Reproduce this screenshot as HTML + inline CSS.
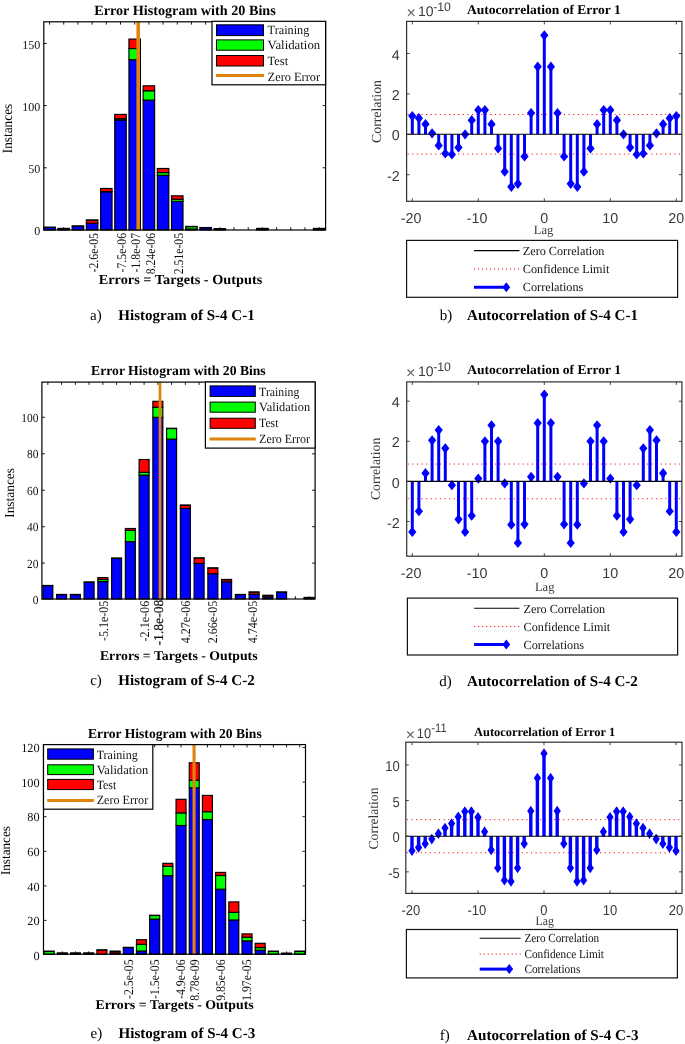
<!DOCTYPE html>
<html lang="en">
<head>
<meta charset="utf-8">
<title>Error histograms and autocorrelation</title>
<style>
html,body{margin:0;padding:0;background:#fff}
body{width:685px;height:1044px;overflow:hidden}
svg{display:block;position:absolute;left:0;top:0;filter:blur(0.35px)}
svg text{font-family:"Liberation Serif", "DejaVu Serif", serif;white-space:pre;text-rendering:geometricPrecision}
svg text.sn{font-family:"Liberation Sans", "DejaVu Sans", sans-serif}
</style>
</head>
<body>
<svg width="685" height="1044" viewBox="0 0 685 1044">
<g>
<text x="185" y="14.6" font-size="14.2" font-weight="bold" text-anchor="middle" textLength="181.6" lengthAdjust="spacingAndGlyphs">Error Histogram with 20 Bins</text>
<line x1="49.55" y1="230" x2="49.55" y2="227.2" stroke="#000" stroke-width="0.9"/>
<line x1="49.55" y1="21.8" x2="49.55" y2="24.6" stroke="#000" stroke-width="0.9"/>
<line x1="63.74" y1="230" x2="63.74" y2="227.2" stroke="#000" stroke-width="0.9"/>
<line x1="63.74" y1="21.8" x2="63.74" y2="24.6" stroke="#000" stroke-width="0.9"/>
<line x1="77.93" y1="230" x2="77.93" y2="227.2" stroke="#000" stroke-width="0.9"/>
<line x1="77.93" y1="21.8" x2="77.93" y2="24.6" stroke="#000" stroke-width="0.9"/>
<line x1="92.12" y1="230" x2="92.12" y2="227.2" stroke="#000" stroke-width="0.9"/>
<line x1="92.12" y1="21.8" x2="92.12" y2="24.6" stroke="#000" stroke-width="0.9"/>
<line x1="106.31" y1="230" x2="106.31" y2="227.2" stroke="#000" stroke-width="0.9"/>
<line x1="106.31" y1="21.8" x2="106.31" y2="24.6" stroke="#000" stroke-width="0.9"/>
<line x1="120.5" y1="230" x2="120.5" y2="227.2" stroke="#000" stroke-width="0.9"/>
<line x1="120.5" y1="21.8" x2="120.5" y2="24.6" stroke="#000" stroke-width="0.9"/>
<line x1="134.69" y1="230" x2="134.69" y2="227.2" stroke="#000" stroke-width="0.9"/>
<line x1="134.69" y1="21.8" x2="134.69" y2="24.6" stroke="#000" stroke-width="0.9"/>
<line x1="148.88" y1="230" x2="148.88" y2="227.2" stroke="#000" stroke-width="0.9"/>
<line x1="148.88" y1="21.8" x2="148.88" y2="24.6" stroke="#000" stroke-width="0.9"/>
<line x1="163.07" y1="230" x2="163.07" y2="227.2" stroke="#000" stroke-width="0.9"/>
<line x1="163.07" y1="21.8" x2="163.07" y2="24.6" stroke="#000" stroke-width="0.9"/>
<line x1="177.26" y1="230" x2="177.26" y2="227.2" stroke="#000" stroke-width="0.9"/>
<line x1="177.26" y1="21.8" x2="177.26" y2="24.6" stroke="#000" stroke-width="0.9"/>
<line x1="191.45" y1="230" x2="191.45" y2="227.2" stroke="#000" stroke-width="0.9"/>
<line x1="191.45" y1="21.8" x2="191.45" y2="24.6" stroke="#000" stroke-width="0.9"/>
<line x1="205.64" y1="230" x2="205.64" y2="227.2" stroke="#000" stroke-width="0.9"/>
<line x1="205.64" y1="21.8" x2="205.64" y2="24.6" stroke="#000" stroke-width="0.9"/>
<line x1="219.83" y1="230" x2="219.83" y2="227.2" stroke="#000" stroke-width="0.9"/>
<line x1="219.83" y1="21.8" x2="219.83" y2="24.6" stroke="#000" stroke-width="0.9"/>
<line x1="234.02" y1="230" x2="234.02" y2="227.2" stroke="#000" stroke-width="0.9"/>
<line x1="234.02" y1="21.8" x2="234.02" y2="24.6" stroke="#000" stroke-width="0.9"/>
<line x1="248.21" y1="230" x2="248.21" y2="227.2" stroke="#000" stroke-width="0.9"/>
<line x1="248.21" y1="21.8" x2="248.21" y2="24.6" stroke="#000" stroke-width="0.9"/>
<line x1="262.4" y1="230" x2="262.4" y2="227.2" stroke="#000" stroke-width="0.9"/>
<line x1="262.4" y1="21.8" x2="262.4" y2="24.6" stroke="#000" stroke-width="0.9"/>
<line x1="276.59" y1="230" x2="276.59" y2="227.2" stroke="#000" stroke-width="0.9"/>
<line x1="276.59" y1="21.8" x2="276.59" y2="24.6" stroke="#000" stroke-width="0.9"/>
<line x1="290.78" y1="230" x2="290.78" y2="227.2" stroke="#000" stroke-width="0.9"/>
<line x1="290.78" y1="21.8" x2="290.78" y2="24.6" stroke="#000" stroke-width="0.9"/>
<line x1="304.97" y1="230" x2="304.97" y2="227.2" stroke="#000" stroke-width="0.9"/>
<line x1="304.97" y1="21.8" x2="304.97" y2="24.6" stroke="#000" stroke-width="0.9"/>
<line x1="319.16" y1="230" x2="319.16" y2="227.2" stroke="#000" stroke-width="0.9"/>
<line x1="319.16" y1="21.8" x2="319.16" y2="24.6" stroke="#000" stroke-width="0.9"/>
<rect x="43.8" y="227.51" width="11.5" height="2.49" fill="#0000ff" stroke="#000" stroke-width="1.15"/>
<line x1="43.3" y1="227.16" x2="55.8" y2="227.16" stroke="#000" stroke-width="1.2"/>
<rect x="57.99" y="228.76" width="11.5" height="1.24" fill="#0000ff" stroke="#000" stroke-width="1.15"/>
<line x1="57.49" y1="228.41" x2="69.99" y2="228.41" stroke="#000" stroke-width="1.2"/>
<rect x="72.18" y="226.27" width="11.5" height="3.73" fill="#0000ff" stroke="#000" stroke-width="1.15"/>
<line x1="71.68" y1="225.92" x2="84.18" y2="225.92" stroke="#000" stroke-width="1.2"/>
<rect x="86.37" y="223.29" width="11.5" height="6.71" fill="#0000ff" stroke="#000" stroke-width="1.15"/>
<rect x="86.37" y="220.3" width="11.5" height="2.98" fill="#ff0000" stroke="#000" stroke-width="1.15"/>
<line x1="85.87" y1="219.95" x2="98.37" y2="219.95" stroke="#000" stroke-width="1.2"/>
<rect x="100.56" y="191.84" width="11.5" height="38.16" fill="#0000ff" stroke="#000" stroke-width="1.15"/>
<rect x="100.56" y="191.47" width="11.5" height="0.37" fill="#00ff00" stroke="#000" stroke-width="1.15"/>
<rect x="100.56" y="188.48" width="11.5" height="2.98" fill="#ff0000" stroke="#000" stroke-width="1.15"/>
<rect x="114.75" y="119.99" width="11.5" height="110.01" fill="#0000ff" stroke="#000" stroke-width="1.15"/>
<rect x="114.75" y="118.75" width="11.5" height="1.24" fill="#00ff00" stroke="#000" stroke-width="1.15"/>
<rect x="114.75" y="114.4" width="11.5" height="4.35" fill="#ff0000" stroke="#000" stroke-width="1.15"/>
<rect x="128.94" y="59.71" width="11.5" height="170.29" fill="#0000ff" stroke="#000" stroke-width="1.15"/>
<rect x="128.94" y="48.52" width="11.5" height="11.19" fill="#00ff00" stroke="#000" stroke-width="1.15"/>
<rect x="128.94" y="39.08" width="11.5" height="9.45" fill="#ff0000" stroke="#000" stroke-width="1.15"/>
<rect x="143.13" y="100.11" width="11.5" height="129.89" fill="#0000ff" stroke="#000" stroke-width="1.15"/>
<rect x="143.13" y="90.78" width="11.5" height="9.32" fill="#00ff00" stroke="#000" stroke-width="1.15"/>
<rect x="143.13" y="85.81" width="11.5" height="4.97" fill="#ff0000" stroke="#000" stroke-width="1.15"/>
<rect x="157.32" y="175.31" width="11.5" height="54.69" fill="#0000ff" stroke="#000" stroke-width="1.15"/>
<rect x="157.32" y="172.57" width="11.5" height="2.73" fill="#00ff00" stroke="#000" stroke-width="1.15"/>
<rect x="157.32" y="168.47" width="11.5" height="4.1" fill="#ff0000" stroke="#000" stroke-width="1.15"/>
<rect x="171.51" y="201.41" width="11.5" height="28.59" fill="#0000ff" stroke="#000" stroke-width="1.15"/>
<rect x="171.51" y="199.17" width="11.5" height="2.24" fill="#00ff00" stroke="#000" stroke-width="1.15"/>
<rect x="171.51" y="195.82" width="11.5" height="3.36" fill="#ff0000" stroke="#000" stroke-width="1.15"/>
<rect x="185.7" y="229.01" width="11.5" height="0.99" fill="#0000ff" stroke="#000" stroke-width="1.15"/>
<rect x="185.7" y="226.77" width="11.5" height="2.24" fill="#00ff00" stroke="#000" stroke-width="1.15"/>
<line x1="185.2" y1="226.42" x2="197.7" y2="226.42" stroke="#000" stroke-width="1.2"/>
<rect x="199.89" y="227.89" width="11.5" height="2.11" fill="#0000ff" stroke="#000" stroke-width="1.15"/>
<line x1="199.39" y1="227.54" x2="211.89" y2="227.54" stroke="#000" stroke-width="1.2"/>
<rect x="214.08" y="229.01" width="11.5" height="0.99" fill="#0000ff" stroke="#000" stroke-width="1.15"/>
<line x1="213.58" y1="228.66" x2="226.08" y2="228.66" stroke="#000" stroke-width="1.2"/>
<rect x="256.65" y="228.76" width="11.5" height="1.24" fill="#0000ff" stroke="#000" stroke-width="1.15"/>
<line x1="256.15" y1="228.41" x2="268.65" y2="228.41" stroke="#000" stroke-width="1.2"/>
<rect x="313.41" y="228.76" width="11.5" height="1.24" fill="#0000ff" stroke="#000" stroke-width="1.15"/>
<line x1="312.91" y1="228.41" x2="325.41" y2="228.41" stroke="#000" stroke-width="1.2"/>
<line x1="138.2" y1="21.8" x2="138.2" y2="230" stroke="#e0840f" stroke-width="3.6"/>
<rect x="43.8" y="21.8" width="281.8" height="208.2" fill="none" stroke="#000" stroke-width="1.2"/>
<text x="40.2" y="235" font-size="12" text-anchor="end" fill="#111">0</text>
<line x1="43.8" y1="167.8" x2="46.8" y2="167.8" stroke="#000" stroke-width="0.9"/>
<line x1="325.6" y1="167.8" x2="322.6" y2="167.8" stroke="#000" stroke-width="0.9"/>
<text x="40.2" y="172.8" font-size="12" text-anchor="end" fill="#111">50</text>
<line x1="43.8" y1="105.6" x2="46.8" y2="105.6" stroke="#000" stroke-width="0.9"/>
<line x1="325.6" y1="105.6" x2="322.6" y2="105.6" stroke="#000" stroke-width="0.9"/>
<text x="40.2" y="110.6" font-size="12" text-anchor="end" fill="#111">100</text>
<line x1="43.8" y1="43.5" x2="46.8" y2="43.5" stroke="#000" stroke-width="0.9"/>
<line x1="325.6" y1="43.5" x2="322.6" y2="43.5" stroke="#000" stroke-width="0.9"/>
<text x="40.2" y="48.5" font-size="12" text-anchor="end" fill="#111">150</text>
<text x="12" y="128.5" font-size="14" text-anchor="middle" textLength="49.4" lengthAdjust="spacingAndGlyphs" transform="rotate(-90 12 128.5)">Instances</text>
<text x="97.5" y="233" font-size="13.3" text-anchor="end" fill="#111" textLength="39.4" lengthAdjust="spacingAndGlyphs" transform="rotate(-90 97.5 233)">-2.6e-05</text>
<text x="125.9" y="233" font-size="13.3" text-anchor="end" fill="#111" textLength="39.4" lengthAdjust="spacingAndGlyphs" transform="rotate(-90 125.9 233)">-7.5e-06</text>
<text x="140.4" y="233" font-size="13.3" text-anchor="end" fill="#111" textLength="39.4" lengthAdjust="spacingAndGlyphs" transform="rotate(-90 140.4 233)">-1.8e-07</text>
<text x="154.5" y="233" font-size="13.3" text-anchor="end" fill="#111" textLength="41.2" lengthAdjust="spacingAndGlyphs" transform="rotate(-90 154.5 233)">8.24e-06</text>
<text x="183" y="233" font-size="13.3" text-anchor="end" fill="#111" textLength="41.2" lengthAdjust="spacingAndGlyphs" transform="rotate(-90 183 233)">2.51e-05</text>
<text x="180.5" y="283.9" font-size="13.8" font-weight="bold" text-anchor="middle" textLength="163.5" lengthAdjust="spacingAndGlyphs">Errors = Targets - Outputs</text>
<rect x="212" y="21.3" width="113.6" height="63.5" fill="#fff" stroke="#000" stroke-width="1.2"/>
<rect x="216.5" y="24.8" width="47" height="10.8" fill="#0000ff" stroke="#000" stroke-width="1"/>
<rect x="216.5" y="39.9" width="47" height="10.3" fill="#00ff00" stroke="#000" stroke-width="1"/>
<rect x="216.5" y="55.5" width="47" height="10.5" fill="#ff0000" stroke="#000" stroke-width="1"/>
<line x1="216" y1="75.5" x2="264" y2="75.5" stroke="#e0840f" stroke-width="3"/>
<text x="267.6" y="33.6" font-size="12.5" fill="#111" textLength="41.7" lengthAdjust="spacingAndGlyphs">Training</text>
<text x="267.6" y="49.3" font-size="12.5" fill="#111" textLength="52.6" lengthAdjust="spacingAndGlyphs">Validation</text>
<text x="267.6" y="64.5" font-size="12.5" fill="#111" textLength="20.6" lengthAdjust="spacingAndGlyphs">Test</text>
<text x="267.6" y="80.6" font-size="12.5" fill="#111" textLength="52.6" lengthAdjust="spacingAndGlyphs">Zero Error</text>
<text x="90" y="320.2" font-size="15">a)</text>
<text x="118.3" y="320.2" font-size="15" font-weight="bold" textLength="136.4" lengthAdjust="spacingAndGlyphs">Histogram of S-4 C-1</text>
</g>
<g>
<text x="406.5" y="18.2" font-size="16" class="sn" fill="#666">&#215;</text>
<text x="417.9" y="16.2" font-size="14" class="sn" fill="#3a3a3a">10</text>
<text x="433.2" y="11" font-size="12.3" class="sn" fill="#3a3a3a">-10</text>
<text x="467" y="14.4" font-size="13.3" font-weight="bold" textLength="153.8" lengthAdjust="spacingAndGlyphs">Autocorrelation of Error 1</text>
<line x1="407.6" y1="114.5" x2="681.9" y2="114.5" stroke="#ff0000" stroke-width="1" stroke-dasharray="1.1 3.5"/>
<line x1="407.6" y1="154.1" x2="681.9" y2="154.1" stroke="#ff0000" stroke-width="1" stroke-dasharray="1.1 3.5"/>
<path d="M412.3 134.3V116.12M418.9 134.3V118.14M425.5 134.3V124.2M432.1 134.3V133.29M438.7 134.3V145.41M445.3 134.3V153.49M451.9 134.3V154.5M458.5 134.3V147.43M465.1 134.3V134.3M471.7 134.3V120.16M478.3 134.3V110.06M484.9 134.3V110.06M491.5 134.3V124.2M498.1 134.3V148.44M504.7 134.3V171.67M511.3 134.3V186.82M517.9 134.3V183.79M524.5 134.3V156.52M531.1 134.3V113.09M537.7 134.3V66.63M544.3 134.3V35.32M550.9 134.3V66.63M557.5 134.3V113.09M564.1 134.3V156.52M570.7 134.3V183.79M577.3 134.3V186.82M583.9 134.3V171.67M590.5 134.3V148.44M597.1 134.3V124.2M603.7 134.3V110.06M610.3 134.3V110.06M616.9 134.3V120.16M623.5 134.3V134.3M630.1 134.3V147.43M636.7 134.3V154.5M643.3 134.3V153.49M649.9 134.3V145.41M656.5 134.3V133.29M663.1 134.3V124.2M669.7 134.3V118.14M676.3 134.3V116.12" stroke="#0000ff" stroke-width="3" fill="none"/>
<path d="M412.3 111.02L416.4 116.12L412.3 121.22L408.2 116.12Z" fill="#0000ff"/>
<path d="M418.9 113.04L423 118.14L418.9 123.24L414.8 118.14Z" fill="#0000ff"/>
<path d="M425.5 119.1L429.6 124.2L425.5 129.3L421.4 124.2Z" fill="#0000ff"/>
<path d="M432.1 128.19L436.2 133.29L432.1 138.39L428 133.29Z" fill="#0000ff"/>
<path d="M438.7 140.31L442.8 145.41L438.7 150.51L434.6 145.41Z" fill="#0000ff"/>
<path d="M445.3 148.39L449.4 153.49L445.3 158.59L441.2 153.49Z" fill="#0000ff"/>
<path d="M451.9 149.4L456 154.5L451.9 159.6L447.8 154.5Z" fill="#0000ff"/>
<path d="M458.5 142.33L462.6 147.43L458.5 152.53L454.4 147.43Z" fill="#0000ff"/>
<path d="M465.1 129.2L469.2 134.3L465.1 139.4L461 134.3Z" fill="#0000ff"/>
<path d="M471.7 115.06L475.8 120.16L471.7 125.26L467.6 120.16Z" fill="#0000ff"/>
<path d="M478.3 104.96L482.4 110.06L478.3 115.16L474.2 110.06Z" fill="#0000ff"/>
<path d="M484.9 104.96L489 110.06L484.9 115.16L480.8 110.06Z" fill="#0000ff"/>
<path d="M491.5 119.1L495.6 124.2L491.5 129.3L487.4 124.2Z" fill="#0000ff"/>
<path d="M498.1 143.34L502.2 148.44L498.1 153.54L494 148.44Z" fill="#0000ff"/>
<path d="M504.7 166.57L508.8 171.67L504.7 176.77L500.6 171.67Z" fill="#0000ff"/>
<path d="M511.3 181.72L515.4 186.82L511.3 191.92L507.2 186.82Z" fill="#0000ff"/>
<path d="M517.9 178.69L522 183.79L517.9 188.89L513.8 183.79Z" fill="#0000ff"/>
<path d="M524.5 151.42L528.6 156.52L524.5 161.62L520.4 156.52Z" fill="#0000ff"/>
<path d="M531.1 107.99L535.2 113.09L531.1 118.19L527 113.09Z" fill="#0000ff"/>
<path d="M537.7 61.53L541.8 66.63L537.7 71.73L533.6 66.63Z" fill="#0000ff"/>
<path d="M544.3 30.22L548.4 35.32L544.3 40.42L540.2 35.32Z" fill="#0000ff"/>
<path d="M550.9 61.53L555 66.63L550.9 71.73L546.8 66.63Z" fill="#0000ff"/>
<path d="M557.5 107.99L561.6 113.09L557.5 118.19L553.4 113.09Z" fill="#0000ff"/>
<path d="M564.1 151.42L568.2 156.52L564.1 161.62L560 156.52Z" fill="#0000ff"/>
<path d="M570.7 178.69L574.8 183.79L570.7 188.89L566.6 183.79Z" fill="#0000ff"/>
<path d="M577.3 181.72L581.4 186.82L577.3 191.92L573.2 186.82Z" fill="#0000ff"/>
<path d="M583.9 166.57L588 171.67L583.9 176.77L579.8 171.67Z" fill="#0000ff"/>
<path d="M590.5 143.34L594.6 148.44L590.5 153.54L586.4 148.44Z" fill="#0000ff"/>
<path d="M597.1 119.1L601.2 124.2L597.1 129.3L593 124.2Z" fill="#0000ff"/>
<path d="M603.7 104.96L607.8 110.06L603.7 115.16L599.6 110.06Z" fill="#0000ff"/>
<path d="M610.3 104.96L614.4 110.06L610.3 115.16L606.2 110.06Z" fill="#0000ff"/>
<path d="M616.9 115.06L621 120.16L616.9 125.26L612.8 120.16Z" fill="#0000ff"/>
<path d="M623.5 129.2L627.6 134.3L623.5 139.4L619.4 134.3Z" fill="#0000ff"/>
<path d="M630.1 142.33L634.2 147.43L630.1 152.53L626 147.43Z" fill="#0000ff"/>
<path d="M636.7 149.4L640.8 154.5L636.7 159.6L632.6 154.5Z" fill="#0000ff"/>
<path d="M643.3 148.39L647.4 153.49L643.3 158.59L639.2 153.49Z" fill="#0000ff"/>
<path d="M649.9 140.31L654 145.41L649.9 150.51L645.8 145.41Z" fill="#0000ff"/>
<path d="M656.5 128.19L660.6 133.29L656.5 138.39L652.4 133.29Z" fill="#0000ff"/>
<path d="M663.1 119.1L667.2 124.2L663.1 129.3L659 124.2Z" fill="#0000ff"/>
<path d="M669.7 113.04L673.8 118.14L669.7 123.24L665.6 118.14Z" fill="#0000ff"/>
<path d="M676.3 111.02L680.4 116.12L676.3 121.22L672.2 116.12Z" fill="#0000ff"/>
<line x1="406.6" y1="134.3" x2="681.9" y2="134.3" stroke="#000" stroke-width="1.1"/>
<rect x="406.6" y="21.4" width="275.3" height="179.9" fill="none" stroke="#2e2e2e" stroke-width="1.2"/>
<line x1="412.3" y1="201.3" x2="412.3" y2="198.3" stroke="#2e2e2e" stroke-width="0.9"/>
<line x1="412.3" y1="21.4" x2="412.3" y2="24.4" stroke="#2e2e2e" stroke-width="0.9"/>
<text x="411.1" y="222.9" font-size="14.3" text-anchor="middle" class="sn" fill="#3a3a3a">-20</text>
<line x1="478.3" y1="201.3" x2="478.3" y2="198.3" stroke="#2e2e2e" stroke-width="0.9"/>
<line x1="478.3" y1="21.4" x2="478.3" y2="24.4" stroke="#2e2e2e" stroke-width="0.9"/>
<text x="477.1" y="222.9" font-size="14.3" text-anchor="middle" class="sn" fill="#3a3a3a">-10</text>
<line x1="544.3" y1="201.3" x2="544.3" y2="198.3" stroke="#2e2e2e" stroke-width="0.9"/>
<line x1="544.3" y1="21.4" x2="544.3" y2="24.4" stroke="#2e2e2e" stroke-width="0.9"/>
<text x="544.3" y="222.9" font-size="14.3" text-anchor="middle" class="sn" fill="#3a3a3a">0</text>
<line x1="610.3" y1="201.3" x2="610.3" y2="198.3" stroke="#2e2e2e" stroke-width="0.9"/>
<line x1="610.3" y1="21.4" x2="610.3" y2="24.4" stroke="#2e2e2e" stroke-width="0.9"/>
<text x="610.3" y="222.9" font-size="14.3" text-anchor="middle" class="sn" fill="#3a3a3a">10</text>
<line x1="676.3" y1="201.3" x2="676.3" y2="198.3" stroke="#2e2e2e" stroke-width="0.9"/>
<line x1="676.3" y1="21.4" x2="676.3" y2="24.4" stroke="#2e2e2e" stroke-width="0.9"/>
<text x="676.3" y="222.9" font-size="14.3" text-anchor="middle" class="sn" fill="#3a3a3a">20</text>
<line x1="406.6" y1="174.7" x2="409.6" y2="174.7" stroke="#2e2e2e" stroke-width="0.9"/>
<line x1="681.9" y1="174.7" x2="678.9" y2="174.7" stroke="#2e2e2e" stroke-width="0.9"/>
<text x="399.8" y="180.8" font-size="14.3" text-anchor="end" class="sn" fill="#3a3a3a">-2</text>
<line x1="406.6" y1="134.3" x2="409.6" y2="134.3" stroke="#2e2e2e" stroke-width="0.9"/>
<line x1="681.9" y1="134.3" x2="678.9" y2="134.3" stroke="#2e2e2e" stroke-width="0.9"/>
<text x="399.8" y="140.4" font-size="14.3" text-anchor="end" class="sn" fill="#3a3a3a">0</text>
<line x1="406.6" y1="93.9" x2="409.6" y2="93.9" stroke="#2e2e2e" stroke-width="0.9"/>
<line x1="681.9" y1="93.9" x2="678.9" y2="93.9" stroke="#2e2e2e" stroke-width="0.9"/>
<text x="399.8" y="100" font-size="14.3" text-anchor="end" class="sn" fill="#3a3a3a">2</text>
<line x1="406.6" y1="53.5" x2="409.6" y2="53.5" stroke="#2e2e2e" stroke-width="0.9"/>
<line x1="681.9" y1="53.5" x2="678.9" y2="53.5" stroke="#2e2e2e" stroke-width="0.9"/>
<text x="399.8" y="59.6" font-size="14.3" text-anchor="end" class="sn" fill="#3a3a3a">4</text>
<text x="380.6" y="111.5" font-size="13.8" text-anchor="middle" fill="#3a3a3a" textLength="63" lengthAdjust="spacingAndGlyphs" transform="rotate(-90 380.6 111.5)">Correlation</text>
<text x="543.6" y="233.5" font-size="12.8" text-anchor="middle" fill="#3a3a3a" textLength="19.6" lengthAdjust="spacingAndGlyphs">Lag</text>
<rect x="406.6" y="240.4" width="271" height="56.9" fill="#fff" stroke="#111" stroke-width="1.2"/>
<line x1="474" y1="250.6" x2="519.4" y2="250.6" stroke="#000" stroke-width="1.1"/>
<line x1="474" y1="269" x2="519.4" y2="269" stroke="#ff0000" stroke-width="1" stroke-dasharray="1.1 2.9"/>
<line x1="474" y1="287.3" x2="506.3" y2="287.3" stroke="#0000ff" stroke-width="3"/>
<path d="M506.3 282.3L510.2 287.3L506.3 292.3L502.4 287.3Z" fill="#0000ff"/>
<text x="522.8" y="254.9" font-size="12.3" fill="#111" textLength="81.6" lengthAdjust="spacingAndGlyphs">Zero Correlation</text>
<text x="522.8" y="273.2" font-size="12.3" fill="#111" textLength="86.6" lengthAdjust="spacingAndGlyphs">Confidence Limit</text>
<text x="522.8" y="291.4" font-size="12.3" fill="#111" textLength="60.5" lengthAdjust="spacingAndGlyphs">Correlations</text>
<text x="439.7" y="320.2" font-size="15">b)</text>
<text x="467" y="320.2" font-size="15" font-weight="bold" textLength="171" lengthAdjust="spacingAndGlyphs">Autocorrelation of S-4 C-1</text>
</g>
<g>
<text x="178.4" y="375.2" font-size="13.65" font-weight="bold" text-anchor="middle" textLength="174.6" lengthAdjust="spacingAndGlyphs">Error Histogram with 20 Bins</text>
<line x1="47.85" y1="599" x2="47.85" y2="596.2" stroke="#000" stroke-width="0.9"/>
<line x1="47.85" y1="382.1" x2="47.85" y2="384.9" stroke="#000" stroke-width="0.9"/>
<line x1="61.6" y1="599" x2="61.6" y2="596.2" stroke="#000" stroke-width="0.9"/>
<line x1="61.6" y1="382.1" x2="61.6" y2="384.9" stroke="#000" stroke-width="0.9"/>
<line x1="75.35" y1="599" x2="75.35" y2="596.2" stroke="#000" stroke-width="0.9"/>
<line x1="75.35" y1="382.1" x2="75.35" y2="384.9" stroke="#000" stroke-width="0.9"/>
<line x1="89.1" y1="599" x2="89.1" y2="596.2" stroke="#000" stroke-width="0.9"/>
<line x1="89.1" y1="382.1" x2="89.1" y2="384.9" stroke="#000" stroke-width="0.9"/>
<line x1="102.85" y1="599" x2="102.85" y2="596.2" stroke="#000" stroke-width="0.9"/>
<line x1="102.85" y1="382.1" x2="102.85" y2="384.9" stroke="#000" stroke-width="0.9"/>
<line x1="116.6" y1="599" x2="116.6" y2="596.2" stroke="#000" stroke-width="0.9"/>
<line x1="116.6" y1="382.1" x2="116.6" y2="384.9" stroke="#000" stroke-width="0.9"/>
<line x1="130.35" y1="599" x2="130.35" y2="596.2" stroke="#000" stroke-width="0.9"/>
<line x1="130.35" y1="382.1" x2="130.35" y2="384.9" stroke="#000" stroke-width="0.9"/>
<line x1="144.1" y1="599" x2="144.1" y2="596.2" stroke="#000" stroke-width="0.9"/>
<line x1="144.1" y1="382.1" x2="144.1" y2="384.9" stroke="#000" stroke-width="0.9"/>
<line x1="157.85" y1="599" x2="157.85" y2="596.2" stroke="#000" stroke-width="0.9"/>
<line x1="157.85" y1="382.1" x2="157.85" y2="384.9" stroke="#000" stroke-width="0.9"/>
<line x1="171.6" y1="599" x2="171.6" y2="596.2" stroke="#000" stroke-width="0.9"/>
<line x1="171.6" y1="382.1" x2="171.6" y2="384.9" stroke="#000" stroke-width="0.9"/>
<line x1="185.35" y1="599" x2="185.35" y2="596.2" stroke="#000" stroke-width="0.9"/>
<line x1="185.35" y1="382.1" x2="185.35" y2="384.9" stroke="#000" stroke-width="0.9"/>
<line x1="199.1" y1="599" x2="199.1" y2="596.2" stroke="#000" stroke-width="0.9"/>
<line x1="199.1" y1="382.1" x2="199.1" y2="384.9" stroke="#000" stroke-width="0.9"/>
<line x1="212.85" y1="599" x2="212.85" y2="596.2" stroke="#000" stroke-width="0.9"/>
<line x1="212.85" y1="382.1" x2="212.85" y2="384.9" stroke="#000" stroke-width="0.9"/>
<line x1="226.6" y1="599" x2="226.6" y2="596.2" stroke="#000" stroke-width="0.9"/>
<line x1="226.6" y1="382.1" x2="226.6" y2="384.9" stroke="#000" stroke-width="0.9"/>
<line x1="240.35" y1="599" x2="240.35" y2="596.2" stroke="#000" stroke-width="0.9"/>
<line x1="240.35" y1="382.1" x2="240.35" y2="384.9" stroke="#000" stroke-width="0.9"/>
<line x1="254.1" y1="599" x2="254.1" y2="596.2" stroke="#000" stroke-width="0.9"/>
<line x1="254.1" y1="382.1" x2="254.1" y2="384.9" stroke="#000" stroke-width="0.9"/>
<line x1="267.85" y1="599" x2="267.85" y2="596.2" stroke="#000" stroke-width="0.9"/>
<line x1="267.85" y1="382.1" x2="267.85" y2="384.9" stroke="#000" stroke-width="0.9"/>
<line x1="281.6" y1="599" x2="281.6" y2="596.2" stroke="#000" stroke-width="0.9"/>
<line x1="281.6" y1="382.1" x2="281.6" y2="384.9" stroke="#000" stroke-width="0.9"/>
<line x1="295.35" y1="599" x2="295.35" y2="596.2" stroke="#000" stroke-width="0.9"/>
<line x1="295.35" y1="382.1" x2="295.35" y2="384.9" stroke="#000" stroke-width="0.9"/>
<line x1="309.1" y1="599" x2="309.1" y2="596.2" stroke="#000" stroke-width="0.9"/>
<line x1="309.1" y1="382.1" x2="309.1" y2="384.9" stroke="#000" stroke-width="0.9"/>
<rect x="42.85" y="585.8" width="10" height="13.2" fill="#0000ff" stroke="#000" stroke-width="1.15"/>
<line x1="42.35" y1="585.45" x2="53.35" y2="585.45" stroke="#000" stroke-width="1.2"/>
<rect x="56.6" y="594.8" width="10" height="4.2" fill="#0000ff" stroke="#000" stroke-width="1.15"/>
<line x1="56.1" y1="594.45" x2="67.1" y2="594.45" stroke="#000" stroke-width="1.2"/>
<rect x="70.35" y="594.8" width="10" height="4.2" fill="#0000ff" stroke="#000" stroke-width="1.15"/>
<line x1="69.85" y1="594.45" x2="80.85" y2="594.45" stroke="#000" stroke-width="1.2"/>
<rect x="84.1" y="582.3" width="10" height="16.7" fill="#0000ff" stroke="#000" stroke-width="1.15"/>
<line x1="83.6" y1="581.95" x2="94.6" y2="581.95" stroke="#000" stroke-width="1.2"/>
<rect x="97.85" y="581.6" width="10" height="17.4" fill="#0000ff" stroke="#000" stroke-width="1.15"/>
<rect x="97.85" y="579.5" width="10" height="2.1" fill="#00ff00" stroke="#000" stroke-width="1.15"/>
<rect x="97.85" y="577.6" width="10" height="1.9" fill="#ff0000" stroke="#000" stroke-width="1.15"/>
<rect x="111.6" y="558.4" width="10" height="40.6" fill="#0000ff" stroke="#000" stroke-width="1.15"/>
<line x1="111.1" y1="558.05" x2="122.1" y2="558.05" stroke="#000" stroke-width="1.2"/>
<rect x="125.35" y="541.6" width="10" height="57.4" fill="#0000ff" stroke="#000" stroke-width="1.15"/>
<rect x="125.35" y="530.3" width="10" height="11.3" fill="#00ff00" stroke="#000" stroke-width="1.15"/>
<rect x="125.35" y="528.5" width="10" height="1.8" fill="#ff0000" stroke="#000" stroke-width="1.15"/>
<rect x="139.1" y="475.1" width="10" height="123.9" fill="#0000ff" stroke="#000" stroke-width="1.15"/>
<rect x="139.1" y="472.3" width="10" height="2.8" fill="#00ff00" stroke="#000" stroke-width="1.15"/>
<rect x="139.1" y="459.5" width="10" height="12.8" fill="#ff0000" stroke="#000" stroke-width="1.15"/>
<rect x="152.85" y="417.3" width="10" height="181.7" fill="#0000ff" stroke="#000" stroke-width="1.15"/>
<rect x="152.85" y="407.2" width="10" height="10.1" fill="#00ff00" stroke="#000" stroke-width="1.15"/>
<rect x="152.85" y="401.3" width="10" height="5.9" fill="#ff0000" stroke="#000" stroke-width="1.15"/>
<rect x="166.6" y="439.1" width="10" height="159.9" fill="#0000ff" stroke="#000" stroke-width="1.15"/>
<rect x="166.6" y="428.6" width="10" height="10.5" fill="#00ff00" stroke="#000" stroke-width="1.15"/>
<line x1="166.1" y1="428.25" x2="177.1" y2="428.25" stroke="#000" stroke-width="1.2"/>
<rect x="180.35" y="508.4" width="10" height="90.6" fill="#0000ff" stroke="#000" stroke-width="1.15"/>
<rect x="180.35" y="505.4" width="10" height="3" fill="#ff0000" stroke="#000" stroke-width="1.15"/>
<line x1="179.85" y1="505.05" x2="190.85" y2="505.05" stroke="#000" stroke-width="1.2"/>
<rect x="194.1" y="563.4" width="10" height="35.6" fill="#0000ff" stroke="#000" stroke-width="1.15"/>
<rect x="194.1" y="558.2" width="10" height="5.2" fill="#ff0000" stroke="#000" stroke-width="1.15"/>
<line x1="193.6" y1="557.85" x2="204.6" y2="557.85" stroke="#000" stroke-width="1.2"/>
<rect x="207.85" y="573.7" width="10" height="25.3" fill="#0000ff" stroke="#000" stroke-width="1.15"/>
<rect x="207.85" y="568.2" width="10" height="5.5" fill="#ff0000" stroke="#000" stroke-width="1.15"/>
<line x1="207.35" y1="567.85" x2="218.35" y2="567.85" stroke="#000" stroke-width="1.2"/>
<rect x="221.6" y="581.8" width="10" height="17.2" fill="#0000ff" stroke="#000" stroke-width="1.15"/>
<rect x="221.6" y="579.8" width="10" height="2" fill="#ff0000" stroke="#000" stroke-width="1.15"/>
<line x1="221.1" y1="579.45" x2="232.1" y2="579.45" stroke="#000" stroke-width="1.2"/>
<rect x="235.35" y="594.8" width="10" height="4.2" fill="#0000ff" stroke="#000" stroke-width="1.15"/>
<line x1="234.85" y1="594.45" x2="245.85" y2="594.45" stroke="#000" stroke-width="1.2"/>
<rect x="249.1" y="594.3" width="10" height="4.7" fill="#0000ff" stroke="#000" stroke-width="1.15"/>
<rect x="249.1" y="592.3" width="10" height="2" fill="#ff0000" stroke="#000" stroke-width="1.15"/>
<line x1="248.6" y1="591.95" x2="259.6" y2="591.95" stroke="#000" stroke-width="1.2"/>
<rect x="262.85" y="597" width="10" height="2" fill="#0000ff" stroke="#000" stroke-width="1.15"/>
<rect x="262.85" y="595.6" width="10" height="1.4" fill="#ff0000" stroke="#000" stroke-width="1.15"/>
<line x1="262.35" y1="595.25" x2="273.35" y2="595.25" stroke="#000" stroke-width="1.2"/>
<rect x="276.6" y="592.3" width="10" height="6.7" fill="#0000ff" stroke="#000" stroke-width="1.15"/>
<line x1="276.1" y1="591.95" x2="287.1" y2="591.95" stroke="#000" stroke-width="1.2"/>
<rect x="304.1" y="597.8" width="10" height="1.2" fill="#0000ff" stroke="#000" stroke-width="1.15"/>
<line x1="303.6" y1="597.45" x2="314.6" y2="597.45" stroke="#000" stroke-width="1.2"/>
<line x1="160" y1="382.1" x2="160" y2="599" stroke="#e0840f" stroke-width="2.8"/>
<rect x="41.9" y="382.1" width="273.2" height="216.9" fill="none" stroke="#000" stroke-width="1.2"/>
<text x="38.4" y="604.2" font-size="12.3" text-anchor="end" fill="#111" transform="translate(2.69 0) scale(0.93 1)">0</text>
<line x1="41.9" y1="563.1" x2="44.9" y2="563.1" stroke="#000" stroke-width="0.9"/>
<line x1="315.1" y1="563.1" x2="312.1" y2="563.1" stroke="#000" stroke-width="0.9"/>
<text x="38.4" y="567.7" font-size="12.3" text-anchor="end" fill="#111" transform="translate(2.69 0) scale(0.93 1)">20</text>
<line x1="41.9" y1="526.7" x2="44.9" y2="526.7" stroke="#000" stroke-width="0.9"/>
<line x1="315.1" y1="526.7" x2="312.1" y2="526.7" stroke="#000" stroke-width="0.9"/>
<text x="38.4" y="531.3" font-size="12.3" text-anchor="end" fill="#111" transform="translate(2.69 0) scale(0.93 1)">40</text>
<line x1="41.9" y1="490.2" x2="44.9" y2="490.2" stroke="#000" stroke-width="0.9"/>
<line x1="315.1" y1="490.2" x2="312.1" y2="490.2" stroke="#000" stroke-width="0.9"/>
<text x="38.4" y="494.8" font-size="12.3" text-anchor="end" fill="#111" transform="translate(2.69 0) scale(0.93 1)">60</text>
<line x1="41.9" y1="453.8" x2="44.9" y2="453.8" stroke="#000" stroke-width="0.9"/>
<line x1="315.1" y1="453.8" x2="312.1" y2="453.8" stroke="#000" stroke-width="0.9"/>
<text x="38.4" y="458.4" font-size="12.3" text-anchor="end" fill="#111" transform="translate(2.69 0) scale(0.93 1)">80</text>
<line x1="41.9" y1="417.3" x2="44.9" y2="417.3" stroke="#000" stroke-width="0.9"/>
<line x1="315.1" y1="417.3" x2="312.1" y2="417.3" stroke="#000" stroke-width="0.9"/>
<text x="38.4" y="421.9" font-size="12.3" text-anchor="end" fill="#111" transform="translate(2.69 0) scale(0.93 1)">100</text>
<text x="13.9" y="492.9" font-size="13.5" text-anchor="middle" textLength="49.8" lengthAdjust="spacingAndGlyphs" transform="rotate(-90 13.9 492.9)">Instances</text>
<text x="108.3" y="600.8" font-size="13.3" text-anchor="end" fill="#111" textLength="40.2" lengthAdjust="spacingAndGlyphs" transform="rotate(-90 108.3 600.8)">-5.1e-05</text>
<text x="149.1" y="600.8" font-size="13.3" text-anchor="end" fill="#111" textLength="40.6" lengthAdjust="spacingAndGlyphs" transform="rotate(-90 149.1 600.8)">-2.1e-06</text>
<text x="162.8" y="599.7" font-size="13.6" text-anchor="end" fill="#111" textLength="45.7" lengthAdjust="spacingAndGlyphs" transform="rotate(-90 162.8 599.7)" stroke="#111" stroke-width="0.2">-1.8e-08</text>
<text x="190.2" y="600.8" font-size="13.3" text-anchor="end" fill="#111" textLength="42.4" lengthAdjust="spacingAndGlyphs" transform="rotate(-90 190.2 600.8)">4.27e-06</text>
<text x="216.6" y="600.8" font-size="13.3" text-anchor="end" fill="#111" textLength="42.4" lengthAdjust="spacingAndGlyphs" transform="rotate(-90 216.6 600.8)">2.66e-05</text>
<text x="257.5" y="600.8" font-size="13.3" text-anchor="end" fill="#111" textLength="42.4" lengthAdjust="spacingAndGlyphs" transform="rotate(-90 257.5 600.8)">4.74e-05</text>
<text x="178.7" y="659.7" font-size="13.4" font-weight="bold" text-anchor="middle" textLength="157.6" lengthAdjust="spacingAndGlyphs">Errors = Targets - Outputs</text>
<rect x="205.4" y="382" width="109.7" height="66.1" fill="#fff" stroke="#000" stroke-width="1.2"/>
<rect x="210.1" y="385.9" width="45.2" height="10.5" fill="#0000ff" stroke="#000" stroke-width="1"/>
<rect x="210.1" y="402.1" width="45.2" height="10.1" fill="#00ff00" stroke="#000" stroke-width="1"/>
<rect x="210.1" y="418.2" width="45.2" height="10.1" fill="#ff0000" stroke="#000" stroke-width="1"/>
<line x1="209.6" y1="439" x2="255.8" y2="439" stroke="#e0840f" stroke-width="3"/>
<text x="259.1" y="395.5" font-size="12.5" fill="#111" textLength="40.2" lengthAdjust="spacingAndGlyphs">Training</text>
<text x="259.1" y="411.4" font-size="12.5" fill="#111" textLength="51" lengthAdjust="spacingAndGlyphs">Validation</text>
<text x="259.1" y="426.8" font-size="12.5" fill="#111" textLength="19.3" lengthAdjust="spacingAndGlyphs">Test</text>
<text x="259.1" y="442.7" font-size="12.5" fill="#111" textLength="51" lengthAdjust="spacingAndGlyphs">Zero Error</text>
<text x="90.2" y="684.9" font-size="15">c)</text>
<text x="118.3" y="684.9" font-size="15" font-weight="bold" textLength="136.4" lengthAdjust="spacingAndGlyphs">Histogram of S-4 C-2</text>
</g>
<g>
<text x="406.1" y="378.4" font-size="16" class="sn" fill="#666">&#215;</text>
<text x="417.9" y="376.4" font-size="14" class="sn" fill="#3a3a3a">10</text>
<text x="433.2" y="371.2" font-size="12.3" class="sn" fill="#3a3a3a">-10</text>
<text x="467.2" y="374" font-size="13.3" font-weight="bold" textLength="153.8" lengthAdjust="spacingAndGlyphs">Autocorrelation of Error 1</text>
<line x1="407.7" y1="464.06" x2="681.9" y2="464.06" stroke="#ff0000" stroke-width="1" stroke-dasharray="1.1 3.5"/>
<line x1="407.7" y1="498.74" x2="681.9" y2="498.74" stroke="#ff0000" stroke-width="1" stroke-dasharray="1.1 3.5"/>
<path d="M412.3 481.4V531.93M418.9 481.4V511.27M425.5 481.4V473.18M432.1 481.4V440.3M438.7 481.4V430.07M445.3 481.4V448.32M451.9 481.4V485.21M458.5 481.4V519.29M465.1 481.4V531.93M471.7 481.4V515.69M478.3 481.4V478.59M484.9 481.4V441.3M491.5 481.4V425.26M498.1 481.4V441.3M504.7 481.4V483.4M511.3 481.4V524.71M517.9 481.4V542.95M524.5 481.4V524.31M531.1 481.4V476.79M537.7 481.4V423.05M544.3 481.4V394.58M550.9 481.4V423.05M557.5 481.4V476.79M564.1 481.4V524.31M570.7 481.4V542.95M577.3 481.4V524.71M583.9 481.4V483.4M590.5 481.4V441.3M597.1 481.4V425.26M603.7 481.4V441.3M610.3 481.4V478.59M616.9 481.4V515.69M623.5 481.4V531.93M630.1 481.4V519.29M636.7 481.4V485.21M643.3 481.4V448.32M649.9 481.4V430.07M656.5 481.4V440.3M663.1 481.4V473.18M669.7 481.4V511.27M676.3 481.4V531.93" stroke="#0000ff" stroke-width="3" fill="none"/>
<path d="M412.3 526.83L416.4 531.93L412.3 537.03L408.2 531.93Z" fill="#0000ff"/>
<path d="M418.9 506.17L423 511.27L418.9 516.37L414.8 511.27Z" fill="#0000ff"/>
<path d="M425.5 468.08L429.6 473.18L425.5 478.28L421.4 473.18Z" fill="#0000ff"/>
<path d="M432.1 435.2L436.2 440.3L432.1 445.4L428 440.3Z" fill="#0000ff"/>
<path d="M438.7 424.97L442.8 430.07L438.7 435.17L434.6 430.07Z" fill="#0000ff"/>
<path d="M445.3 443.22L449.4 448.32L445.3 453.42L441.2 448.32Z" fill="#0000ff"/>
<path d="M451.9 480.11L456 485.21L451.9 490.31L447.8 485.21Z" fill="#0000ff"/>
<path d="M458.5 514.19L462.6 519.29L458.5 524.39L454.4 519.29Z" fill="#0000ff"/>
<path d="M465.1 526.83L469.2 531.93L465.1 537.03L461 531.93Z" fill="#0000ff"/>
<path d="M471.7 510.59L475.8 515.69L471.7 520.79L467.6 515.69Z" fill="#0000ff"/>
<path d="M478.3 473.49L482.4 478.59L478.3 483.69L474.2 478.59Z" fill="#0000ff"/>
<path d="M484.9 436.2L489 441.3L484.9 446.4L480.8 441.3Z" fill="#0000ff"/>
<path d="M491.5 420.16L495.6 425.26L491.5 430.36L487.4 425.26Z" fill="#0000ff"/>
<path d="M498.1 436.2L502.2 441.3L498.1 446.4L494 441.3Z" fill="#0000ff"/>
<path d="M504.7 478.3L508.8 483.4L504.7 488.5L500.6 483.4Z" fill="#0000ff"/>
<path d="M511.3 519.61L515.4 524.71L511.3 529.81L507.2 524.71Z" fill="#0000ff"/>
<path d="M517.9 537.85L522 542.95L517.9 548.05L513.8 542.95Z" fill="#0000ff"/>
<path d="M524.5 519.21L528.6 524.31L524.5 529.41L520.4 524.31Z" fill="#0000ff"/>
<path d="M531.1 471.69L535.2 476.79L531.1 481.89L527 476.79Z" fill="#0000ff"/>
<path d="M537.7 417.95L541.8 423.05L537.7 428.15L533.6 423.05Z" fill="#0000ff"/>
<path d="M544.3 389.48L548.4 394.58L544.3 399.68L540.2 394.58Z" fill="#0000ff"/>
<path d="M550.9 417.95L555 423.05L550.9 428.15L546.8 423.05Z" fill="#0000ff"/>
<path d="M557.5 471.69L561.6 476.79L557.5 481.89L553.4 476.79Z" fill="#0000ff"/>
<path d="M564.1 519.21L568.2 524.31L564.1 529.41L560 524.31Z" fill="#0000ff"/>
<path d="M570.7 537.85L574.8 542.95L570.7 548.05L566.6 542.95Z" fill="#0000ff"/>
<path d="M577.3 519.61L581.4 524.71L577.3 529.81L573.2 524.71Z" fill="#0000ff"/>
<path d="M583.9 478.3L588 483.4L583.9 488.5L579.8 483.4Z" fill="#0000ff"/>
<path d="M590.5 436.2L594.6 441.3L590.5 446.4L586.4 441.3Z" fill="#0000ff"/>
<path d="M597.1 420.16L601.2 425.26L597.1 430.36L593 425.26Z" fill="#0000ff"/>
<path d="M603.7 436.2L607.8 441.3L603.7 446.4L599.6 441.3Z" fill="#0000ff"/>
<path d="M610.3 473.49L614.4 478.59L610.3 483.69L606.2 478.59Z" fill="#0000ff"/>
<path d="M616.9 510.59L621 515.69L616.9 520.79L612.8 515.69Z" fill="#0000ff"/>
<path d="M623.5 526.83L627.6 531.93L623.5 537.03L619.4 531.93Z" fill="#0000ff"/>
<path d="M630.1 514.19L634.2 519.29L630.1 524.39L626 519.29Z" fill="#0000ff"/>
<path d="M636.7 480.11L640.8 485.21L636.7 490.31L632.6 485.21Z" fill="#0000ff"/>
<path d="M643.3 443.22L647.4 448.32L643.3 453.42L639.2 448.32Z" fill="#0000ff"/>
<path d="M649.9 424.97L654 430.07L649.9 435.17L645.8 430.07Z" fill="#0000ff"/>
<path d="M656.5 435.2L660.6 440.3L656.5 445.4L652.4 440.3Z" fill="#0000ff"/>
<path d="M663.1 468.08L667.2 473.18L663.1 478.28L659 473.18Z" fill="#0000ff"/>
<path d="M669.7 506.17L673.8 511.27L669.7 516.37L665.6 511.27Z" fill="#0000ff"/>
<path d="M676.3 526.83L680.4 531.93L676.3 537.03L672.2 531.93Z" fill="#0000ff"/>
<line x1="406.7" y1="481.4" x2="681.9" y2="481.4" stroke="#000" stroke-width="1.1"/>
<rect x="406.7" y="381.9" width="275.2" height="174.3" fill="none" stroke="#2e2e2e" stroke-width="1.2"/>
<line x1="412.3" y1="556.2" x2="412.3" y2="553.2" stroke="#2e2e2e" stroke-width="0.9"/>
<line x1="412.3" y1="381.9" x2="412.3" y2="384.9" stroke="#2e2e2e" stroke-width="0.9"/>
<text x="411.1" y="577.7" font-size="14.3" text-anchor="middle" class="sn" fill="#3a3a3a">-20</text>
<line x1="478.3" y1="556.2" x2="478.3" y2="553.2" stroke="#2e2e2e" stroke-width="0.9"/>
<line x1="478.3" y1="381.9" x2="478.3" y2="384.9" stroke="#2e2e2e" stroke-width="0.9"/>
<text x="477.1" y="577.7" font-size="14.3" text-anchor="middle" class="sn" fill="#3a3a3a">-10</text>
<line x1="544.3" y1="556.2" x2="544.3" y2="553.2" stroke="#2e2e2e" stroke-width="0.9"/>
<line x1="544.3" y1="381.9" x2="544.3" y2="384.9" stroke="#2e2e2e" stroke-width="0.9"/>
<text x="544.3" y="577.7" font-size="14.3" text-anchor="middle" class="sn" fill="#3a3a3a">0</text>
<line x1="610.3" y1="556.2" x2="610.3" y2="553.2" stroke="#2e2e2e" stroke-width="0.9"/>
<line x1="610.3" y1="381.9" x2="610.3" y2="384.9" stroke="#2e2e2e" stroke-width="0.9"/>
<text x="610.3" y="577.7" font-size="14.3" text-anchor="middle" class="sn" fill="#3a3a3a">10</text>
<line x1="676.3" y1="556.2" x2="676.3" y2="553.2" stroke="#2e2e2e" stroke-width="0.9"/>
<line x1="676.3" y1="381.9" x2="676.3" y2="384.9" stroke="#2e2e2e" stroke-width="0.9"/>
<text x="676.3" y="577.7" font-size="14.3" text-anchor="middle" class="sn" fill="#3a3a3a">20</text>
<line x1="406.7" y1="521.5" x2="409.7" y2="521.5" stroke="#2e2e2e" stroke-width="0.9"/>
<line x1="681.9" y1="521.5" x2="678.9" y2="521.5" stroke="#2e2e2e" stroke-width="0.9"/>
<text x="399.8" y="527.6" font-size="14.3" text-anchor="end" class="sn" fill="#3a3a3a">-2</text>
<line x1="406.7" y1="481.4" x2="409.7" y2="481.4" stroke="#2e2e2e" stroke-width="0.9"/>
<line x1="681.9" y1="481.4" x2="678.9" y2="481.4" stroke="#2e2e2e" stroke-width="0.9"/>
<text x="399.8" y="487.5" font-size="14.3" text-anchor="end" class="sn" fill="#3a3a3a">0</text>
<line x1="406.7" y1="441.3" x2="409.7" y2="441.3" stroke="#2e2e2e" stroke-width="0.9"/>
<line x1="681.9" y1="441.3" x2="678.9" y2="441.3" stroke="#2e2e2e" stroke-width="0.9"/>
<text x="399.8" y="447.4" font-size="14.3" text-anchor="end" class="sn" fill="#3a3a3a">2</text>
<line x1="406.7" y1="401.2" x2="409.7" y2="401.2" stroke="#2e2e2e" stroke-width="0.9"/>
<line x1="681.9" y1="401.2" x2="678.9" y2="401.2" stroke="#2e2e2e" stroke-width="0.9"/>
<text x="399.8" y="407.3" font-size="14.3" text-anchor="end" class="sn" fill="#3a3a3a">4</text>
<text x="380.1" y="468.9" font-size="13.8" text-anchor="middle" fill="#3a3a3a" textLength="62.4" lengthAdjust="spacingAndGlyphs" transform="rotate(-90 380.1 468.9)">Correlation</text>
<text x="544.7" y="591.4" font-size="12.8" text-anchor="middle" fill="#3a3a3a" textLength="19.5" lengthAdjust="spacingAndGlyphs">Lag</text>
<rect x="407.4" y="598.1" width="270.2" height="56.9" fill="#fff" stroke="#111" stroke-width="1.2"/>
<line x1="474.1" y1="608.2" x2="519.4" y2="608.2" stroke="#000" stroke-width="1.1"/>
<line x1="474.1" y1="626.5" x2="519.4" y2="626.5" stroke="#ff0000" stroke-width="1" stroke-dasharray="1.1 2.9"/>
<line x1="474.1" y1="644.6" x2="506.3" y2="644.6" stroke="#0000ff" stroke-width="3"/>
<path d="M506.3 639.6L510.2 644.6L506.3 649.6L502.4 644.6Z" fill="#0000ff"/>
<text x="523.6" y="612.7" font-size="12.3" fill="#111" textLength="81.6" lengthAdjust="spacingAndGlyphs">Zero Correlation</text>
<text x="523.6" y="631" font-size="12.3" fill="#111" textLength="86.6" lengthAdjust="spacingAndGlyphs">Confidence Limit</text>
<text x="523.6" y="648.7" font-size="12.3" fill="#111" textLength="60.5" lengthAdjust="spacingAndGlyphs">Correlations</text>
<text x="439.2" y="685.6" font-size="15">d)</text>
<text x="467.1" y="685.6" font-size="15" font-weight="bold" textLength="170.8" lengthAdjust="spacingAndGlyphs">Autocorrelation of S-4 C-2</text>
</g>
<g>
<text x="174.8" y="737.6" font-size="13.6" font-weight="bold" text-anchor="middle" textLength="173.8" lengthAdjust="spacingAndGlyphs">Error Histogram with 20 Bins</text>
<line x1="49.15" y1="954.2" x2="49.15" y2="951.4" stroke="#000" stroke-width="0.9"/>
<line x1="49.15" y1="744.6" x2="49.15" y2="747.4" stroke="#000" stroke-width="0.9"/>
<line x1="62.34" y1="954.2" x2="62.34" y2="951.4" stroke="#000" stroke-width="0.9"/>
<line x1="62.34" y1="744.6" x2="62.34" y2="747.4" stroke="#000" stroke-width="0.9"/>
<line x1="75.53" y1="954.2" x2="75.53" y2="951.4" stroke="#000" stroke-width="0.9"/>
<line x1="75.53" y1="744.6" x2="75.53" y2="747.4" stroke="#000" stroke-width="0.9"/>
<line x1="88.72" y1="954.2" x2="88.72" y2="951.4" stroke="#000" stroke-width="0.9"/>
<line x1="88.72" y1="744.6" x2="88.72" y2="747.4" stroke="#000" stroke-width="0.9"/>
<line x1="101.91" y1="954.2" x2="101.91" y2="951.4" stroke="#000" stroke-width="0.9"/>
<line x1="101.91" y1="744.6" x2="101.91" y2="747.4" stroke="#000" stroke-width="0.9"/>
<line x1="115.1" y1="954.2" x2="115.1" y2="951.4" stroke="#000" stroke-width="0.9"/>
<line x1="115.1" y1="744.6" x2="115.1" y2="747.4" stroke="#000" stroke-width="0.9"/>
<line x1="128.29" y1="954.2" x2="128.29" y2="951.4" stroke="#000" stroke-width="0.9"/>
<line x1="128.29" y1="744.6" x2="128.29" y2="747.4" stroke="#000" stroke-width="0.9"/>
<line x1="141.48" y1="954.2" x2="141.48" y2="951.4" stroke="#000" stroke-width="0.9"/>
<line x1="141.48" y1="744.6" x2="141.48" y2="747.4" stroke="#000" stroke-width="0.9"/>
<line x1="154.67" y1="954.2" x2="154.67" y2="951.4" stroke="#000" stroke-width="0.9"/>
<line x1="154.67" y1="744.6" x2="154.67" y2="747.4" stroke="#000" stroke-width="0.9"/>
<line x1="167.86" y1="954.2" x2="167.86" y2="951.4" stroke="#000" stroke-width="0.9"/>
<line x1="167.86" y1="744.6" x2="167.86" y2="747.4" stroke="#000" stroke-width="0.9"/>
<line x1="181.05" y1="954.2" x2="181.05" y2="951.4" stroke="#000" stroke-width="0.9"/>
<line x1="181.05" y1="744.6" x2="181.05" y2="747.4" stroke="#000" stroke-width="0.9"/>
<line x1="194.24" y1="954.2" x2="194.24" y2="951.4" stroke="#000" stroke-width="0.9"/>
<line x1="194.24" y1="744.6" x2="194.24" y2="747.4" stroke="#000" stroke-width="0.9"/>
<line x1="207.43" y1="954.2" x2="207.43" y2="951.4" stroke="#000" stroke-width="0.9"/>
<line x1="207.43" y1="744.6" x2="207.43" y2="747.4" stroke="#000" stroke-width="0.9"/>
<line x1="220.62" y1="954.2" x2="220.62" y2="951.4" stroke="#000" stroke-width="0.9"/>
<line x1="220.62" y1="744.6" x2="220.62" y2="747.4" stroke="#000" stroke-width="0.9"/>
<line x1="233.81" y1="954.2" x2="233.81" y2="951.4" stroke="#000" stroke-width="0.9"/>
<line x1="233.81" y1="744.6" x2="233.81" y2="747.4" stroke="#000" stroke-width="0.9"/>
<line x1="247" y1="954.2" x2="247" y2="951.4" stroke="#000" stroke-width="0.9"/>
<line x1="247" y1="744.6" x2="247" y2="747.4" stroke="#000" stroke-width="0.9"/>
<line x1="260.19" y1="954.2" x2="260.19" y2="951.4" stroke="#000" stroke-width="0.9"/>
<line x1="260.19" y1="744.6" x2="260.19" y2="747.4" stroke="#000" stroke-width="0.9"/>
<line x1="273.38" y1="954.2" x2="273.38" y2="951.4" stroke="#000" stroke-width="0.9"/>
<line x1="273.38" y1="744.6" x2="273.38" y2="747.4" stroke="#000" stroke-width="0.9"/>
<line x1="286.57" y1="954.2" x2="286.57" y2="951.4" stroke="#000" stroke-width="0.9"/>
<line x1="286.57" y1="744.6" x2="286.57" y2="747.4" stroke="#000" stroke-width="0.9"/>
<line x1="299.76" y1="954.2" x2="299.76" y2="951.4" stroke="#000" stroke-width="0.9"/>
<line x1="299.76" y1="744.6" x2="299.76" y2="747.4" stroke="#000" stroke-width="0.9"/>
<rect x="44.15" y="951.5" width="10" height="2.7" fill="#00ff00" stroke="#000" stroke-width="1.15"/>
<line x1="43.65" y1="951.15" x2="54.65" y2="951.15" stroke="#000" stroke-width="1.2"/>
<rect x="57.34" y="953.3" width="10" height="0.9" fill="#0000ff" stroke="#000" stroke-width="1.15"/>
<line x1="56.84" y1="952.95" x2="67.84" y2="952.95" stroke="#000" stroke-width="1.2"/>
<rect x="70.53" y="953.3" width="10" height="0.9" fill="#0000ff" stroke="#000" stroke-width="1.15"/>
<line x1="70.03" y1="952.95" x2="81.03" y2="952.95" stroke="#000" stroke-width="1.2"/>
<rect x="83.72" y="953.3" width="10" height="0.9" fill="#0000ff" stroke="#000" stroke-width="1.15"/>
<line x1="83.22" y1="952.95" x2="94.22" y2="952.95" stroke="#000" stroke-width="1.2"/>
<rect x="96.91" y="950.2" width="10" height="4" fill="#ff0000" stroke="#000" stroke-width="1.15"/>
<line x1="96.41" y1="949.85" x2="107.41" y2="949.85" stroke="#000" stroke-width="1.2"/>
<rect x="110.1" y="953" width="10" height="1.2" fill="#0000ff" stroke="#000" stroke-width="1.15"/>
<rect x="110.1" y="951.5" width="10" height="1.5" fill="#ff0000" stroke="#000" stroke-width="1.15"/>
<line x1="109.6" y1="951.15" x2="120.6" y2="951.15" stroke="#000" stroke-width="1.2"/>
<rect x="123.29" y="947.7" width="10" height="6.5" fill="#0000ff" stroke="#000" stroke-width="1.15"/>
<line x1="122.79" y1="947.35" x2="133.79" y2="947.35" stroke="#000" stroke-width="1.2"/>
<rect x="136.48" y="951" width="10" height="3.2" fill="#0000ff" stroke="#000" stroke-width="1.15"/>
<rect x="136.48" y="944.3" width="10" height="6.7" fill="#00ff00" stroke="#000" stroke-width="1.15"/>
<rect x="136.48" y="939.7" width="10" height="4.6" fill="#ff0000" stroke="#000" stroke-width="1.15"/>
<rect x="149.67" y="919.1" width="10" height="35.1" fill="#0000ff" stroke="#000" stroke-width="1.15"/>
<rect x="149.67" y="915.6" width="10" height="3.5" fill="#00ff00" stroke="#000" stroke-width="1.15"/>
<line x1="149.17" y1="915.25" x2="160.17" y2="915.25" stroke="#000" stroke-width="1.2"/>
<rect x="162.86" y="875.7" width="10" height="78.5" fill="#0000ff" stroke="#000" stroke-width="1.15"/>
<rect x="162.86" y="866.4" width="10" height="9.3" fill="#00ff00" stroke="#000" stroke-width="1.15"/>
<rect x="162.86" y="863.3" width="10" height="3.1" fill="#ff0000" stroke="#000" stroke-width="1.15"/>
<rect x="176.05" y="825.5" width="10" height="128.7" fill="#0000ff" stroke="#000" stroke-width="1.15"/>
<rect x="176.05" y="812.9" width="10" height="12.6" fill="#00ff00" stroke="#000" stroke-width="1.15"/>
<rect x="176.05" y="799.3" width="10" height="13.6" fill="#ff0000" stroke="#000" stroke-width="1.15"/>
<rect x="189.24" y="787.8" width="10" height="166.4" fill="#0000ff" stroke="#000" stroke-width="1.15"/>
<rect x="189.24" y="780.2" width="10" height="7.6" fill="#00ff00" stroke="#000" stroke-width="1.15"/>
<rect x="189.24" y="762.8" width="10" height="17.4" fill="#ff0000" stroke="#000" stroke-width="1.15"/>
<rect x="202.43" y="819.5" width="10" height="134.7" fill="#0000ff" stroke="#000" stroke-width="1.15"/>
<rect x="202.43" y="811.7" width="10" height="7.8" fill="#00ff00" stroke="#000" stroke-width="1.15"/>
<rect x="202.43" y="795.4" width="10" height="16.3" fill="#ff0000" stroke="#000" stroke-width="1.15"/>
<rect x="215.62" y="889.2" width="10" height="65" fill="#0000ff" stroke="#000" stroke-width="1.15"/>
<rect x="215.62" y="875.5" width="10" height="13.7" fill="#00ff00" stroke="#000" stroke-width="1.15"/>
<rect x="215.62" y="872.4" width="10" height="3.1" fill="#ff0000" stroke="#000" stroke-width="1.15"/>
<rect x="228.81" y="920" width="10" height="34.2" fill="#0000ff" stroke="#000" stroke-width="1.15"/>
<rect x="228.81" y="912.3" width="10" height="7.7" fill="#00ff00" stroke="#000" stroke-width="1.15"/>
<rect x="228.81" y="901.9" width="10" height="10.4" fill="#ff0000" stroke="#000" stroke-width="1.15"/>
<rect x="242" y="940.9" width="10" height="13.3" fill="#0000ff" stroke="#000" stroke-width="1.15"/>
<rect x="242" y="937.2" width="10" height="3.7" fill="#00ff00" stroke="#000" stroke-width="1.15"/>
<rect x="242" y="933.9" width="10" height="3.3" fill="#ff0000" stroke="#000" stroke-width="1.15"/>
<rect x="255.19" y="950.2" width="10" height="4" fill="#0000ff" stroke="#000" stroke-width="1.15"/>
<rect x="255.19" y="947.6" width="10" height="2.6" fill="#00ff00" stroke="#000" stroke-width="1.15"/>
<rect x="255.19" y="943.3" width="10" height="4.3" fill="#ff0000" stroke="#000" stroke-width="1.15"/>
<rect x="268.38" y="951.5" width="10" height="2.7" fill="#00ff00" stroke="#000" stroke-width="1.15"/>
<line x1="267.88" y1="951.15" x2="278.88" y2="951.15" stroke="#000" stroke-width="1.2"/>
<rect x="281.57" y="953.5" width="10" height="0.7" fill="#0000ff" stroke="#000" stroke-width="1.15"/>
<line x1="281.07" y1="953.15" x2="292.07" y2="953.15" stroke="#000" stroke-width="1.2"/>
<rect x="294.76" y="951.5" width="10" height="2.7" fill="#00ff00" stroke="#000" stroke-width="1.15"/>
<line x1="294.26" y1="951.15" x2="305.26" y2="951.15" stroke="#000" stroke-width="1.2"/>
<line x1="194.05" y1="744.6" x2="194.05" y2="954.2" stroke="#e0840f" stroke-width="3.1"/>
<rect x="43.5" y="744.6" width="262" height="209.6" fill="none" stroke="#000" stroke-width="1.2"/>
<text x="39.6" y="959.5" font-size="12.3" text-anchor="end" fill="#111">0</text>
<line x1="43.5" y1="920.4" x2="46.5" y2="920.4" stroke="#000" stroke-width="0.9"/>
<line x1="305.5" y1="920.4" x2="302.5" y2="920.4" stroke="#000" stroke-width="0.9"/>
<text x="39.6" y="925" font-size="12.3" text-anchor="end" fill="#111">20</text>
<line x1="43.5" y1="885.9" x2="46.5" y2="885.9" stroke="#000" stroke-width="0.9"/>
<line x1="305.5" y1="885.9" x2="302.5" y2="885.9" stroke="#000" stroke-width="0.9"/>
<text x="39.6" y="890.5" font-size="12.3" text-anchor="end" fill="#111">40</text>
<line x1="43.5" y1="851.3" x2="46.5" y2="851.3" stroke="#000" stroke-width="0.9"/>
<line x1="305.5" y1="851.3" x2="302.5" y2="851.3" stroke="#000" stroke-width="0.9"/>
<text x="39.6" y="855.9" font-size="12.3" text-anchor="end" fill="#111">60</text>
<line x1="43.5" y1="816.7" x2="46.5" y2="816.7" stroke="#000" stroke-width="0.9"/>
<line x1="305.5" y1="816.7" x2="302.5" y2="816.7" stroke="#000" stroke-width="0.9"/>
<text x="39.6" y="821.3" font-size="12.3" text-anchor="end" fill="#111">80</text>
<line x1="43.5" y1="782.1" x2="46.5" y2="782.1" stroke="#000" stroke-width="0.9"/>
<line x1="305.5" y1="782.1" x2="302.5" y2="782.1" stroke="#000" stroke-width="0.9"/>
<text x="39.6" y="786.7" font-size="12.3" text-anchor="end" fill="#111">100</text>
<line x1="43.5" y1="747.6" x2="46.5" y2="747.6" stroke="#000" stroke-width="0.9"/>
<line x1="305.5" y1="747.6" x2="302.5" y2="747.6" stroke="#000" stroke-width="0.9"/>
<text x="39.6" y="752.2" font-size="12.3" text-anchor="end" fill="#111">120</text>
<text x="10" y="850.6" font-size="13.5" text-anchor="middle" textLength="49" lengthAdjust="spacingAndGlyphs" transform="rotate(-90 10 850.6)">Instances</text>
<text x="133.4" y="959.4" font-size="13.3" text-anchor="end" fill="#111" textLength="39.6" lengthAdjust="spacingAndGlyphs" transform="rotate(-90 133.4 959.4)">-2.5e-05</text>
<text x="158.6" y="959.4" font-size="13.3" text-anchor="end" fill="#111" textLength="39.6" lengthAdjust="spacingAndGlyphs" transform="rotate(-90 158.6 959.4)">-1.5e-05</text>
<text x="184.9" y="959.4" font-size="13.3" text-anchor="end" fill="#111" textLength="39.6" lengthAdjust="spacingAndGlyphs" transform="rotate(-90 184.9 959.4)">-4.9e-06</text>
<text x="199.1" y="959.4" font-size="13.3" text-anchor="end" fill="#111" textLength="41.4" lengthAdjust="spacingAndGlyphs" transform="rotate(-90 199.1 959.4)">8.78e-09</text>
<text x="225.1" y="959.4" font-size="13.3" text-anchor="end" fill="#111" textLength="41.4" lengthAdjust="spacingAndGlyphs" transform="rotate(-90 225.1 959.4)">9.85e-06</text>
<text x="250.8" y="959.4" font-size="13.3" text-anchor="end" fill="#111" textLength="41.4" lengthAdjust="spacingAndGlyphs" transform="rotate(-90 250.8 959.4)">1.97e-05</text>
<text x="174.6" y="1009.4" font-size="13.4" font-weight="bold" text-anchor="middle" textLength="158.2" lengthAdjust="spacingAndGlyphs">Errors = Targets - Outputs</text>
<rect x="43.5" y="744.6" width="109.3" height="64.6" fill="#fff" stroke="#000" stroke-width="1.2"/>
<rect x="47.7" y="748.9" width="45.7" height="10.3" fill="#0000ff" stroke="#000" stroke-width="1"/>
<rect x="47.7" y="764.8" width="45.7" height="9.8" fill="#00ff00" stroke="#000" stroke-width="1"/>
<rect x="47.7" y="779.4" width="45.7" height="10.2" fill="#ff0000" stroke="#000" stroke-width="1"/>
<line x1="47.2" y1="800.4" x2="93.9" y2="800.4" stroke="#e0840f" stroke-width="3"/>
<text x="96.7" y="758.9" font-size="12.5" fill="#111" textLength="41" lengthAdjust="spacingAndGlyphs">Training</text>
<text x="96.7" y="774" font-size="12.5" fill="#111" textLength="51.5" lengthAdjust="spacingAndGlyphs">Validation</text>
<text x="96.7" y="789.1" font-size="12.5" fill="#111" textLength="19.6" lengthAdjust="spacingAndGlyphs">Test</text>
<text x="96.7" y="803.7" font-size="12.5" fill="#111" textLength="51.5" lengthAdjust="spacingAndGlyphs">Zero Error</text>
<text x="90.5" y="1038.3" font-size="15">e)</text>
<text x="118.6" y="1038.3" font-size="15" font-weight="bold" textLength="136.6" lengthAdjust="spacingAndGlyphs">Histogram of S-4 C-3</text>
</g>
<g>
<text x="405.7" y="739.8" font-size="16" class="sn" fill="#666">&#215;</text>
<text x="416.8" y="737.8" font-size="14" class="sn" fill="#3a3a3a" transform="translate(37.51 0) scale(0.91 1)">10</text>
<text x="431.3" y="732.4" font-size="12.3" class="sn" fill="#3a3a3a" transform="translate(38.82 0) scale(0.91 1)">-11</text>
<text x="474.1" y="735.5" font-size="12.4" font-weight="bold" textLength="141" lengthAdjust="spacingAndGlyphs">Autocorrelation of Error 1</text>
<line x1="406.8" y1="819.66" x2="682" y2="819.66" stroke="#ff0000" stroke-width="1" stroke-dasharray="1.1 3.5"/>
<line x1="406.8" y1="852.74" x2="682" y2="852.74" stroke="#ff0000" stroke-width="1" stroke-dasharray="1.1 3.5"/>
<path d="M412 836.2V850.75M418.6 836.2V847.47M425.2 836.2V843.69M431.8 836.2V839.12M438.4 836.2V833.63M445 836.2V828.07M451.6 836.2V823.58M458.2 836.2V816.74M464.8 836.2V811.46M471.4 836.2V811.46M478 836.2V817.23M484.6 836.2V831.64M491.2 836.2V849.96M497.8 836.2V868.07M504.4 836.2V880.19M511 836.2V881.4M517.6 836.2V868.07M524.2 836.2V843.69M530.8 836.2V810.96M537.4 836.2V778.09M544 836.2V753.49M550.6 836.2V778.09M557.2 836.2V810.96M563.8 836.2V843.69M570.4 836.2V868.07M577 836.2V881.4M583.6 836.2V880.19M590.2 836.2V868.07M596.8 836.2V849.96M603.4 836.2V831.64M610 836.2V817.23M616.6 836.2V811.46M623.2 836.2V811.46M629.8 836.2V816.74M636.4 836.2V823.58M643 836.2V828.07M649.6 836.2V833.63M656.2 836.2V839.12M662.8 836.2V843.69M669.4 836.2V847.47M676 836.2V850.75" stroke="#0000ff" stroke-width="3.4" fill="none"/>
<path d="M412 845.45L415.6 850.75L412 856.05L408.4 850.75Z" fill="#0000ff"/>
<path d="M418.6 842.17L422.2 847.47L418.6 852.77L415 847.47Z" fill="#0000ff"/>
<path d="M425.2 838.39L428.8 843.69L425.2 848.99L421.6 843.69Z" fill="#0000ff"/>
<path d="M431.8 833.82L435.4 839.12L431.8 844.42L428.2 839.12Z" fill="#0000ff"/>
<path d="M438.4 828.33L442 833.63L438.4 838.93L434.8 833.63Z" fill="#0000ff"/>
<path d="M445 822.77L448.6 828.07L445 833.37L441.4 828.07Z" fill="#0000ff"/>
<path d="M451.6 818.28L455.2 823.58L451.6 828.88L448 823.58Z" fill="#0000ff"/>
<path d="M458.2 811.44L461.8 816.74L458.2 822.04L454.6 816.74Z" fill="#0000ff"/>
<path d="M464.8 806.16L468.4 811.46L464.8 816.76L461.2 811.46Z" fill="#0000ff"/>
<path d="M471.4 806.16L475 811.46L471.4 816.76L467.8 811.46Z" fill="#0000ff"/>
<path d="M478 811.93L481.6 817.23L478 822.53L474.4 817.23Z" fill="#0000ff"/>
<path d="M484.6 826.34L488.2 831.64L484.6 836.94L481 831.64Z" fill="#0000ff"/>
<path d="M491.2 844.66L494.8 849.96L491.2 855.26L487.6 849.96Z" fill="#0000ff"/>
<path d="M497.8 862.77L501.4 868.07L497.8 873.37L494.2 868.07Z" fill="#0000ff"/>
<path d="M504.4 874.89L508 880.19L504.4 885.49L500.8 880.19Z" fill="#0000ff"/>
<path d="M511 876.1L514.6 881.4L511 886.7L507.4 881.4Z" fill="#0000ff"/>
<path d="M517.6 862.77L521.2 868.07L517.6 873.37L514 868.07Z" fill="#0000ff"/>
<path d="M524.2 838.39L527.8 843.69L524.2 848.99L520.6 843.69Z" fill="#0000ff"/>
<path d="M530.8 805.66L534.4 810.96L530.8 816.26L527.2 810.96Z" fill="#0000ff"/>
<path d="M537.4 772.79L541 778.09L537.4 783.39L533.8 778.09Z" fill="#0000ff"/>
<path d="M544 748.19L547.6 753.49L544 758.79L540.4 753.49Z" fill="#0000ff"/>
<path d="M550.6 772.79L554.2 778.09L550.6 783.39L547 778.09Z" fill="#0000ff"/>
<path d="M557.2 805.66L560.8 810.96L557.2 816.26L553.6 810.96Z" fill="#0000ff"/>
<path d="M563.8 838.39L567.4 843.69L563.8 848.99L560.2 843.69Z" fill="#0000ff"/>
<path d="M570.4 862.77L574 868.07L570.4 873.37L566.8 868.07Z" fill="#0000ff"/>
<path d="M577 876.1L580.6 881.4L577 886.7L573.4 881.4Z" fill="#0000ff"/>
<path d="M583.6 874.89L587.2 880.19L583.6 885.49L580 880.19Z" fill="#0000ff"/>
<path d="M590.2 862.77L593.8 868.07L590.2 873.37L586.6 868.07Z" fill="#0000ff"/>
<path d="M596.8 844.66L600.4 849.96L596.8 855.26L593.2 849.96Z" fill="#0000ff"/>
<path d="M603.4 826.34L607 831.64L603.4 836.94L599.8 831.64Z" fill="#0000ff"/>
<path d="M610 811.93L613.6 817.23L610 822.53L606.4 817.23Z" fill="#0000ff"/>
<path d="M616.6 806.16L620.2 811.46L616.6 816.76L613 811.46Z" fill="#0000ff"/>
<path d="M623.2 806.16L626.8 811.46L623.2 816.76L619.6 811.46Z" fill="#0000ff"/>
<path d="M629.8 811.44L633.4 816.74L629.8 822.04L626.2 816.74Z" fill="#0000ff"/>
<path d="M636.4 818.28L640 823.58L636.4 828.88L632.8 823.58Z" fill="#0000ff"/>
<path d="M643 822.77L646.6 828.07L643 833.37L639.4 828.07Z" fill="#0000ff"/>
<path d="M649.6 828.33L653.2 833.63L649.6 838.93L646 833.63Z" fill="#0000ff"/>
<path d="M656.2 833.82L659.8 839.12L656.2 844.42L652.6 839.12Z" fill="#0000ff"/>
<path d="M662.8 838.39L666.4 843.69L662.8 848.99L659.2 843.69Z" fill="#0000ff"/>
<path d="M669.4 842.17L673 847.47L669.4 852.77L665.8 847.47Z" fill="#0000ff"/>
<path d="M676 845.45L679.6 850.75L676 856.05L672.4 850.75Z" fill="#0000ff"/>
<line x1="405.8" y1="836.2" x2="682" y2="836.2" stroke="#000" stroke-width="1.1"/>
<rect x="405.8" y="742.2" width="276.2" height="151.2" fill="none" stroke="#2e2e2e" stroke-width="1.2"/>
<line x1="412" y1="893.4" x2="412" y2="890.4" stroke="#2e2e2e" stroke-width="0.9"/>
<line x1="412" y1="742.2" x2="412" y2="745.2" stroke="#2e2e2e" stroke-width="0.9"/>
<text x="410.8" y="914.8" font-size="14.3" text-anchor="middle" class="sn" fill="#3a3a3a" transform="translate(36.97 0) scale(0.91 1)">-20</text>
<line x1="478" y1="893.4" x2="478" y2="890.4" stroke="#2e2e2e" stroke-width="0.9"/>
<line x1="478" y1="742.2" x2="478" y2="745.2" stroke="#2e2e2e" stroke-width="0.9"/>
<text x="476.8" y="914.8" font-size="14.3" text-anchor="middle" class="sn" fill="#3a3a3a" transform="translate(42.91 0) scale(0.91 1)">-10</text>
<line x1="544" y1="893.4" x2="544" y2="890.4" stroke="#2e2e2e" stroke-width="0.9"/>
<line x1="544" y1="742.2" x2="544" y2="745.2" stroke="#2e2e2e" stroke-width="0.9"/>
<text x="544" y="914.8" font-size="14.3" text-anchor="middle" class="sn" fill="#3a3a3a" transform="translate(48.96 0) scale(0.91 1)">0</text>
<line x1="610" y1="893.4" x2="610" y2="890.4" stroke="#2e2e2e" stroke-width="0.9"/>
<line x1="610" y1="742.2" x2="610" y2="745.2" stroke="#2e2e2e" stroke-width="0.9"/>
<text x="610" y="914.8" font-size="14.3" text-anchor="middle" class="sn" fill="#3a3a3a" transform="translate(54.9 0) scale(0.91 1)">10</text>
<line x1="676" y1="893.4" x2="676" y2="890.4" stroke="#2e2e2e" stroke-width="0.9"/>
<line x1="676" y1="742.2" x2="676" y2="745.2" stroke="#2e2e2e" stroke-width="0.9"/>
<text x="676" y="914.8" font-size="14.3" text-anchor="middle" class="sn" fill="#3a3a3a" transform="translate(60.84 0) scale(0.91 1)">20</text>
<line x1="405.8" y1="871.85" x2="408.8" y2="871.85" stroke="#2e2e2e" stroke-width="0.9"/>
<line x1="682" y1="871.85" x2="679" y2="871.85" stroke="#2e2e2e" stroke-width="0.9"/>
<text x="399.8" y="877.95" font-size="14.3" text-anchor="end" class="sn" fill="#3a3a3a" transform="translate(35.98 0) scale(0.91 1)">-5</text>
<line x1="405.8" y1="836.2" x2="408.8" y2="836.2" stroke="#2e2e2e" stroke-width="0.9"/>
<line x1="682" y1="836.2" x2="679" y2="836.2" stroke="#2e2e2e" stroke-width="0.9"/>
<text x="399.8" y="842.3" font-size="14.3" text-anchor="end" class="sn" fill="#3a3a3a" transform="translate(35.98 0) scale(0.91 1)">0</text>
<line x1="405.8" y1="800.55" x2="408.8" y2="800.55" stroke="#2e2e2e" stroke-width="0.9"/>
<line x1="682" y1="800.55" x2="679" y2="800.55" stroke="#2e2e2e" stroke-width="0.9"/>
<text x="399.8" y="806.65" font-size="14.3" text-anchor="end" class="sn" fill="#3a3a3a" transform="translate(35.98 0) scale(0.91 1)">5</text>
<line x1="405.8" y1="764.9" x2="408.8" y2="764.9" stroke="#2e2e2e" stroke-width="0.9"/>
<line x1="682" y1="764.9" x2="679" y2="764.9" stroke="#2e2e2e" stroke-width="0.9"/>
<text x="399.8" y="771" font-size="14.3" text-anchor="end" class="sn" fill="#3a3a3a" transform="translate(35.98 0) scale(0.91 1)">10</text>
<text x="378.2" y="818.5" font-size="13.8" text-anchor="middle" fill="#3a3a3a" textLength="61.9" lengthAdjust="spacingAndGlyphs" transform="rotate(-90 378.2 818.5)">Correlation</text>
<text x="544.8" y="925.2" font-size="12.8" text-anchor="middle" fill="#3a3a3a" textLength="18.4" lengthAdjust="spacingAndGlyphs">Lag</text>
<rect x="406.4" y="929.5" width="271" height="48.4" fill="#fff" stroke="#111" stroke-width="1.2"/>
<line x1="479.7" y1="938.2" x2="520.6" y2="938.2" stroke="#000" stroke-width="1.1"/>
<line x1="479.7" y1="954" x2="520.6" y2="954" stroke="#ff0000" stroke-width="1" stroke-dasharray="1.1 2.9"/>
<line x1="479.7" y1="969.1" x2="509.3" y2="969.1" stroke="#0000ff" stroke-width="3"/>
<path d="M509.3 964.1L513.2 969.1L509.3 974.1L505.4 969.1Z" fill="#0000ff"/>
<text x="524.4" y="942.2" font-size="12.3" fill="#111" textLength="74.8" lengthAdjust="spacingAndGlyphs">Zero Correlation</text>
<text x="524.4" y="957.8" font-size="12.3" fill="#111" textLength="79.6" lengthAdjust="spacingAndGlyphs">Confidence Limit</text>
<text x="524.4" y="973.4" font-size="12.3" fill="#111" textLength="55.9" lengthAdjust="spacingAndGlyphs">Correlations</text>
<text x="439.7" y="1039.5" font-size="15">f)</text>
<text x="467.1" y="1039.5" font-size="15" font-weight="bold" textLength="171.5" lengthAdjust="spacingAndGlyphs">Autocorrelation of S-4 C-3</text>
</g>
</svg>
</body>
</html>
